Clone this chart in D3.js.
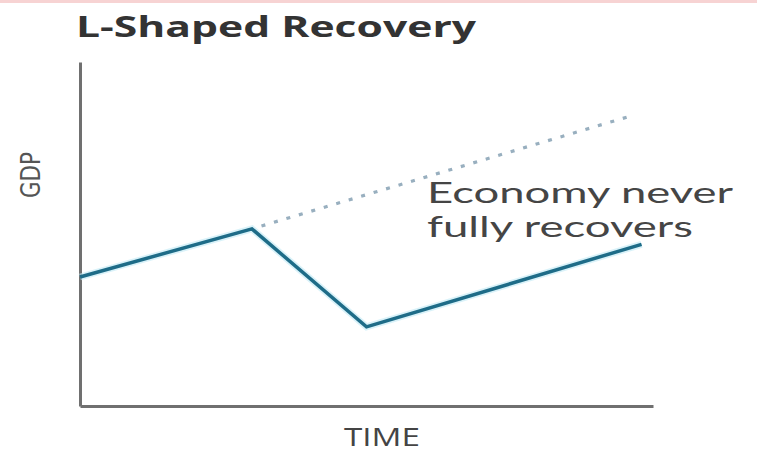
<!DOCTYPE html>
<html>
<head>
<meta charset="utf-8">
<script src="https://cdn.jsdelivr.net/npm/d3@7/dist/d3.min.js"></script>
<style>
  html, body { margin: 0; padding: 0; background: #fff; }
  svg { display: block; }
</style>
</head>
<body>
<svg id="chart" width="757" height="454"></svg>
<script>
// ---- data ----
const title = "L-Shaped Recovery";
const xLabel = "TIME";
const yLabel = "GDP";
const annotationLines = ["Economy never", "fully recovers"];
const actualTime = [0, 3, 5, 9.8];
const actualGDP = [3.75, 5.15, 2.3, 4.7];
const trendTime = [3, 9.55];
const trendGDP = [5.15, 8.4];

// ---- layout ----
const svg = d3.select("#chart");
const W = 757, H = 454;
const plot = { left: 80, right: 653, top: 62, bottom: 406 };

const x = d3.scaleLinear().domain([0, 10]).range([plot.left, plot.right]);
const y = d3.scaleLinear().domain([0, 10]).range([plot.bottom, plot.top]);

// top pink border
svg.append("rect").attr("x", 0).attr("y", 0).attr("width", W).attr("height", 3)
  .attr("fill", "#f7d3d3");

// title
svg.append("text")
  .attr("x", 76).attr("y", 37)
  .attr("font-family", "'Open Sans', sans-serif")
  .attr("font-weight", 700)
  .attr("font-size", 29)
  .attr("fill", "#333")
  .attr("textLength", 400)
  .attr("lengthAdjust", "spacingAndGlyphs")
  .text(title);

// axes
const gx = svg.append("g").attr("transform", `translate(0,${plot.bottom})`)
  .call(d3.axisBottom(x).ticks(0).tickSizeOuter(0));
const gy = svg.append("g").attr("transform", `translate(${plot.left},0)`)
  .call(d3.axisLeft(y).ticks(0).tickSizeOuter(0));
[gx, gy].forEach(g => g.select(".domain")
  .attr("stroke", "#707070").attr("stroke-width", 3));

// axis labels
svg.append("text")
  .attr("x", 382).attr("y", 446)
  .attr("text-anchor", "middle")
  .attr("font-family", "'Open Sans', sans-serif")
  .attr("font-size", 25)
  .attr("fill", "#444")
  .attr("textLength", 76)
  .attr("lengthAdjust", "spacingAndGlyphs")
  .text(xLabel);

svg.append("text")
  .attr("transform", "translate(40,175) rotate(-90)")
  .attr("text-anchor", "middle")
  .attr("font-family", "'DejaVu Sans Condensed', 'DejaVu Sans', sans-serif")
  .attr("font-size", 27)
  .attr("fill", "#555")
  .attr("textLength", 46)
  .attr("lengthAdjust", "spacingAndGlyphs")
  .text(yLabel);

// trend (dotted) line
const trend = trendTime.map((t, i) => [t, trendGDP[i]]);
const line = d3.line().x(d => x(d[0])).y(d => y(d[1]));
svg.append("path")
  .datum(trend)
  .attr("d", line)
  .attr("fill", "none")
  .attr("stroke", "#98afbf")
  .attr("stroke-width", 3.2)
  .attr("stroke-dasharray", "4,9")
  .attr("stroke-dashoffset", -10);

// actual GDP line: soft halo + main stroke
const actual = actualTime.map((t, i) => [t, actualGDP[i]]);
svg.append("path")
  .datum(actual)
  .attr("d", line)
  .attr("fill", "none")
  .attr("stroke", "#bfeaf5")
  .attr("stroke-width", 7)
  .attr("stroke-opacity", 0.6)
  .attr("stroke-linejoin", "miter");
svg.append("path")
  .datum(actual)
  .attr("d", line)
  .attr("fill", "none")
  .attr("stroke", "#1e6c88")
  .attr("stroke-width", 3.5)
  .attr("stroke-linejoin", "miter");

// annotation
const ann = svg.append("text")
  .attr("font-family", "Lato, sans-serif")
  .attr("font-size", 28)
  .attr("fill", "#454545");
ann.append("tspan").attr("x", 427).attr("y", 203)
  .attr("textLength", 306).attr("lengthAdjust", "spacingAndGlyphs")
  .text(annotationLines[0]);
ann.append("tspan").attr("x", 427).attr("y", 237)
  .attr("textLength", 266).attr("lengthAdjust", "spacingAndGlyphs")
  .text(annotationLines[1]);
</script>
</body>
</html>
